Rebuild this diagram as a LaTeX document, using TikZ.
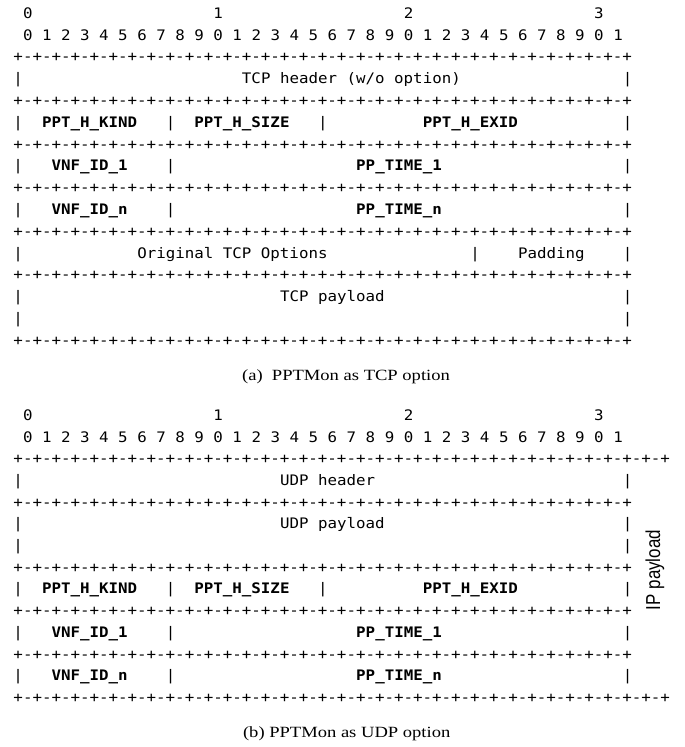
\documentclass[tikz,border=0pt]{standalone}
\usepackage{fontspec}
\newfontfamily\monofam[FakeStretch=1.09]{DejaVu Sans Mono}
\newfontfamily\capfam[FakeStretch=1.19]{Liberation Serif}
\newfontfamily\sansfam{Liberation Sans}
\newcommand\pmEight{+-+-+-+-+-+-+-+-}
\newcommand\brdShort{\pmEight\pmEight\pmEight\pmEight+}
\newcommand\brdLong{\pmEight\pmEight\pmEight\pmEight+-+-+}
\newcommand\cx[1]{13.5+9.52*(#1)}
\tikzset{
  mono/.style={font=\monofam\fontsize{10.875}{13}\selectfont, anchor=base west, inner sep=0pt, outer sep=0pt},
  monob/.style={mono, font=\monofam\fontsize{10.875}{13}\selectfont\bfseries},
  caption/.style={font=\capfam\fontsize{11.7}{14}\selectfont, anchor=base, inner sep=0pt},
  sidelabel/.style={font=\sansfam\fontsize{12.7}{15}\selectfont, rotate=90, inner sep=0pt}
}
\begin{document}
\begin{tikzpicture}[x=0.75pt,y=-0.75pt]
\useasboundingbox (0,0) rectangle (685,747);
% ---------------- (a) ----------------
\node[mono] (aN0) at ({\cx{1}},18.3) {0};
\node[mono] (aN1) at ({\cx{21}},18.3) {1};
\node[mono] (aN2) at ({\cx{41}},18.3) {2};
\node[mono] (aN3) at ({\cx{61}},18.3) {3};
\foreach \i in {0,...,31} {
  \pgfmathtruncatemacro\dg{mod(\i,10)}
  \node[mono] (aD\i) at ({\cx{2*\i+1}},40.1) {\dg};
}
\foreach \yy/\nm in {61.9/a2,105.5/a4,149.1/a6,192.7/a8,236.3/a10,279.9/a12,345.3/a15} {
  \node[mono] (\nm) at ({\cx{0}},\yy) {\brdShort};
}
% row 3
\node[mono] (a3l) at ({\cx{0}},83.7) {|};
\node[mono] (a3t) at ({\cx{24}},83.7) {TCP header (w/o option)};
\node[mono] (a3r) at ({\cx{64}},83.7) {|};
% row 5
\node[mono] (a5l) at ({\cx{0}},127.3) {|};
\node[monob] (a5k) at ({\cx{3}},127.3) {PPT\_H\_KIND};
\node[mono] (a5m1) at ({\cx{16}},127.3) {|};
\node[monob] (a5s) at ({\cx{19}},127.3) {PPT\_H\_SIZE};
\node[mono] (a5m2) at ({\cx{32}},127.3) {|};
\node[monob] (a5e) at ({\cx{43}},127.3) {PPT\_H\_EXID};
\node[mono] (a5r) at ({\cx{64}},127.3) {|};
% row 7
\node[mono] (a7l) at ({\cx{0}},170.9) {|};
\node[monob] (a7v) at ({\cx{4}},170.9) {VNF\_ID\_1};
\node[mono] (a7m) at ({\cx{16}},170.9) {|};
\node[monob] (a7p) at ({\cx{36}},170.9) {PP\_TIME\_1};
\node[mono] (a7r) at ({\cx{64}},170.9) {|};
% row 9
\node[mono] (a9l) at ({\cx{0}},214.5) {|};
\node[monob] (a9v) at ({\cx{4}},214.5) {VNF\_ID\_n};
\node[mono] (a9m) at ({\cx{16}},214.5) {|};
\node[monob] (a9p) at ({\cx{36}},214.5) {PP\_TIME\_n};
\node[mono] (a9r) at ({\cx{64}},214.5) {|};
% row 11
\node[mono] (a11l) at ({\cx{0}},258.1) {|};
\node[mono] (a11o) at ({\cx{13}},258.1) {Original TCP Options};
\node[mono] (a11m) at ({\cx{48}},258.1) {|};
\node[mono] (a11p) at ({\cx{53}},258.1) {Padding};
\node[mono] (a11r) at ({\cx{64}},258.1) {|};
% row 13-14
\node[mono] (a13l) at ({\cx{0}},301.7) {|};
\node[mono] (a13t) at ({\cx{28}},301.7) {TCP payload};
\node[mono] (a13r) at ({\cx{64}},301.7) {|};
\node[mono] (a14l) at ({\cx{0}},323.5) {|};
\node[mono] (a14r) at ({\cx{64}},323.5) {|};
\node[caption] (capA) at (346,380) {(a)\ \ PPTMon as TCP option};
% ---------------- (b) ----------------
\node[mono] (bN0) at ({\cx{1}},420.3) {0};
\node[mono] (bN1) at ({\cx{21}},420.3) {1};
\node[mono] (bN2) at ({\cx{41}},420.3) {2};
\node[mono] (bN3) at ({\cx{61}},420.3) {3};
\foreach \i in {0,...,31} {
  \pgfmathtruncatemacro\dg{mod(\i,10)}
  \node[mono] (bD\i) at ({\cx{2*\i+1}},442.0) {\dg};
}
\node[mono] (b2) at ({\cx{0}},463.7) {\brdLong};
\foreach \yy/\nm in {507.1/b4,572.2/b7,615.6/b9,659.0/b11} {
  \node[mono] (\nm) at ({\cx{0}},\yy) {\brdShort};
}
\node[mono] (b13) at ({\cx{0}},702.4) {\brdLong};
% row 3
\node[mono] (b3l) at ({\cx{0}},485.4) {|};
\node[mono] (b3t) at ({\cx{28}},485.4) {UDP header};
\node[mono] (b3r) at ({\cx{64}},485.4) {|};
% rows 5-6
\node[mono] (b5l) at ({\cx{0}},528.8) {|};
\node[mono] (b5t) at ({\cx{28}},528.8) {UDP payload};
\node[mono] (b5r) at ({\cx{64}},528.8) {|};
\node[mono] (b6l) at ({\cx{0}},550.5) {|};
\node[mono] (b6r) at ({\cx{64}},550.5) {|};
% row 8
\node[mono] (b8l) at ({\cx{0}},593.9) {|};
\node[monob] (b8k) at ({\cx{3}},593.9) {PPT\_H\_KIND};
\node[mono] (b8m1) at ({\cx{16}},593.9) {|};
\node[monob] (b8s) at ({\cx{19}},593.9) {PPT\_H\_SIZE};
\node[mono] (b8m2) at ({\cx{32}},593.9) {|};
\node[monob] (b8e) at ({\cx{43}},593.9) {PPT\_H\_EXID};
\node[mono] (b8r) at ({\cx{64}},593.9) {|};
% row 10
\node[mono] (b10l) at ({\cx{0}},637.3) {|};
\node[monob] (b10v) at ({\cx{4}},637.3) {VNF\_ID\_1};
\node[mono] (b10m) at ({\cx{16}},637.3) {|};
\node[monob] (b10p) at ({\cx{36}},637.3) {PP\_TIME\_1};
\node[mono] (b10r) at ({\cx{64}},637.3) {|};
% row 12
\node[mono] (b12l) at ({\cx{0}},680.7) {|};
\node[monob] (b12v) at ({\cx{4}},680.7) {VNF\_ID\_n};
\node[mono] (b12m) at ({\cx{16}},680.7) {|};
\node[monob] (b12p) at ({\cx{36}},680.7) {PP\_TIME\_n};
\node[mono] (b12r) at ({\cx{64}},680.7) {|};
% side label
\node[sidelabel] (ipl) at (655,570) {\scalebox{1}[1.19]{IP payload}};
\node[caption] (capB) at (346.7,737.2) {(b) PPTMon as UDP option};
\end{tikzpicture}
\end{document}
